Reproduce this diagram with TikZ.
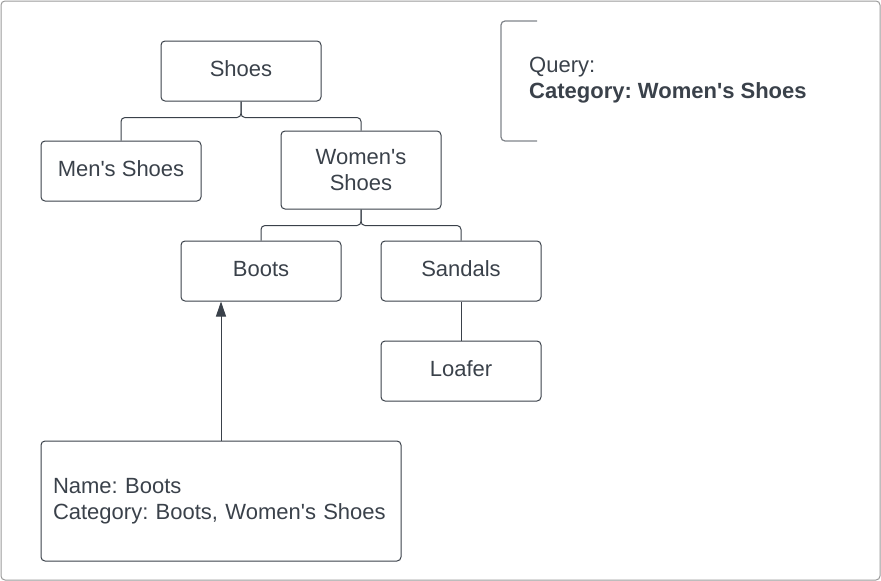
\documentclass[tikz,border=0pt]{standalone}
\usepackage{fontspec}
\setmainfont{Liberation Sans}[Ligatures=TeXOff]
\usetikzlibrary{arrows.meta}
\definecolor{ink}{HTML}{3A414A}
\definecolor{frame}{HTML}{9A9A9A}
\definecolor{brk}{HTML}{80848A}
\tikzset{
  box/.style={draw=ink, line width=1pt, rounded corners=4pt, minimum width=160pt, minimum height=60pt, inner sep=0pt, text=ink, font=\fontsize{22}{26}\selectfont\frenchspacing, align=center},
  one/.style={text height=16pt, text depth=6pt},
  conn/.style={draw=ink, line width=1pt, rounded corners=4pt},
  arr/.style={draw=ink, line width=1pt, -{Triangle[length=15pt,width=10pt]}},
}
\begin{document}
\frenchspacing
\begin{tikzpicture}[x=1pt,y=-1pt]
\useasboundingbox (0,0) rectangle (881,581);
\draw[frame, line width=1pt, rounded corners=4pt] (1,1) rectangle (880,580);

\node[box, one] (shoes) at (241,71) {Shoes};
\node[box, one] (mens) at (121,171) {Men's Shoes};
\node[box, minimum height=78pt] (womens) at (361,170) {Women's\\Shoes};
\node[box, one] (boots) at (261,271) {Boots};
\node[box, one] (sandals) at (461,271) {Sandals};
\node[box, one] (loafer) at (461,371) {Loafer};
\node[box, minimum width=360pt, minimum height=120pt, text width=336pt, inner xsep=12pt, align=left] (item) at (221,501) {Name: Boots\\Category: Boots, Women's Shoes};

\draw[conn] (shoes.south) -- ++(0,16) -| (mens.north);
\draw[conn] (shoes.south) -- ++(0,16) -| (womens.north);
\draw[conn] (womens.south) -- ++(0,16) -| (boots.north);
\draw[conn] (womens.south) -- ++(0,16) -| (sandals.north);
\draw[conn] (sandals.south) -- (loafer.north);
\draw[arr] (item.north) -- (item.north |- boots.south);

\node[anchor=west, inner sep=0pt, text=ink, align=left, font=\fontsize{22}{26}\selectfont\frenchspacing] (query) at (529,80.5) {Query:\\\textbf{Category: Women's Shoes}};
\coordinate (qt) at (537,21);
\coordinate (qb) at (537,141);
\draw[brk, line width=1.2pt, rounded corners=4pt] (qt) -- (501,21) -- (501,141) -- (qb);
\end{tikzpicture}
\end{document}
